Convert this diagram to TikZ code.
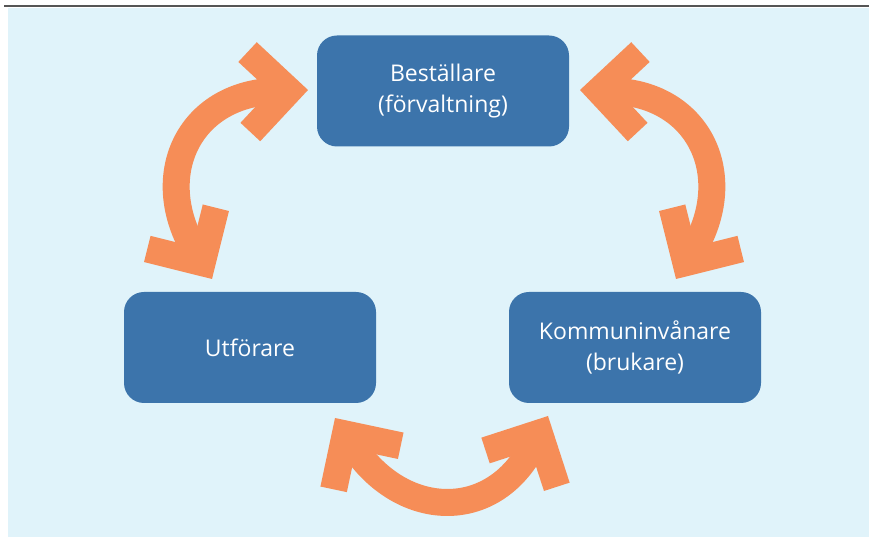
\documentclass[tikz,border=0pt]{standalone}
\usepackage{fontspec}
\setmainfont{Open Sans}
\usepackage{xcolor}
\usepackage{tikz}
\usetikzlibrary{arrows.meta, positioning, calc}

\definecolor{panelbg}{HTML}{E0F3FA}
\definecolor{boxblue}{HTML}{3C74AB}
\definecolor{cycleorange}{HTML}{F68D57}
\definecolor{rulegray}{HTML}{555555}

\tikzset{
  party/.style={rounded corners=20pt, fill=boxblue, text=white, align=center,
    minimum width=252pt, minimum height=111pt,
    font=\fontsize{23}{31}\selectfont},
  cycle/.style={draw=cycleorange, line width=27pt,
    {Straight Barb[length=40pt, width=80pt, line width=27pt]}-{Straight Barb[length=40pt, width=80pt, line width=27pt]}}
}

\begin{document}
\begin{tikzpicture}[x=1pt, y=1pt]

  % Panel
  \useasboundingbox (0,0) rectangle (869,537);
  \fill[panelbg] (8,0) rectangle (869,529);
  \draw[rulegray, line width=2pt] (4,531) -- (869,531);

  % --- The three parties ---
  \node[party] (bestallare) at (443,446) {Beställare\\(förvaltning)};
  \node[party] (utforare) at (250,189.5) {Utförare};
  \node[party] (brukare) at (635,189.5) {Kommuninvånare\\(brukare)};

  % Arrow ends
  \coordinate (l1) at (308,447);
  \coordinate (l2) at (212,258);
  \coordinate (r1) at (580,447);
  \coordinate (r2) at (676,258);
  \coordinate (b1) at (335,119);
  \coordinate (b2) at (548,121);

  % --- Arrows between them ---
  \draw[cycle] (l1) to[out=182, in=121, looseness=1.45] (l2);
  \draw[cycle] (r1) to[out=-2, in=59, looseness=1.45] (r2);
  \draw[cycle] (b1) to[out=-57, in=-117, looseness=1.45] (b2);

\end{tikzpicture}
\end{document}
